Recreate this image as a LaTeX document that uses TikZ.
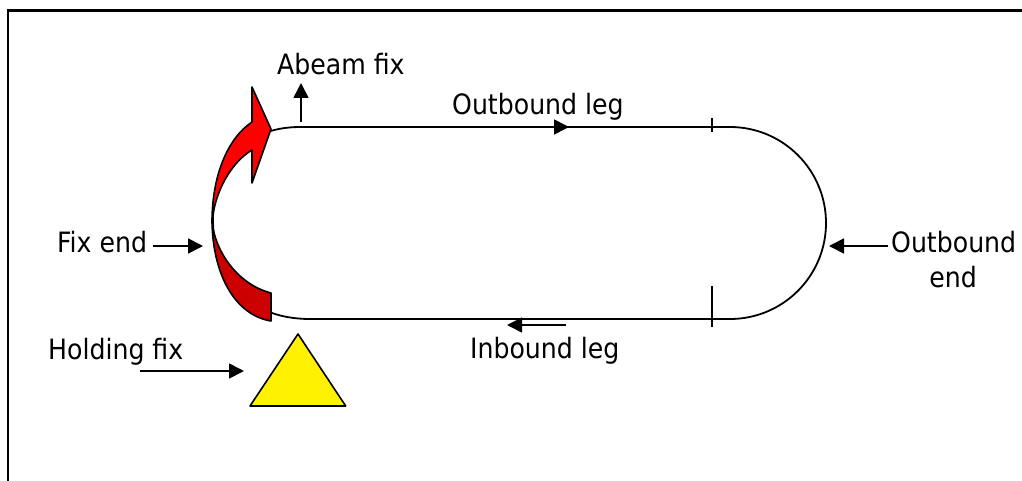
\documentclass[tikz,border=0pt]{standalone}
\usepackage{fontspec}
\setmainfont{DejaVu Sans Condensed}
\usetikzlibrary{arrows.meta}
\definecolor{darkred}{HTML}{CC0000}
\begin{document}
\begin{tikzpicture}[x=1pt,y=-1pt,
  lbl/.style={inner sep=0pt, font=\fontsize{28}{32}\selectfont},
  ptr/.style={line width=1.7pt, -{Triangle[length=15pt,width=15pt]}},
  trackline/.style={line width=1.8pt},
  outline/.style={line width=1.6pt, line join=round}]
\useasboundingbox (0,0) rectangle (1022,481);
% frame
\draw[line width=2.5pt] (8,481) -- (8,10.5) -- (1022,10.5);
% racetrack
\draw[trackline] (300,127) -- (730,127) arc[start angle=-90, end angle=90, radius=96]
  -- (310,319) .. controls (245,319) and (213,275) .. (213,220)
  .. controls (213,170) and (240,127) .. (300,127) -- cycle;
\draw[trackline] (712,118) -- (712,132);
\draw[trackline] (712,286) -- (712,327);
% red curved arrow
\filldraw[fill=red, outline] (271,129) -- (252,87) -- (252,122)
  .. controls (228,138) and (212,175) .. (212,222)
  .. controls (215,190) and (232,162) .. (252,150) -- (252,183) -- cycle;
\filldraw[fill=darkred, outline] (212,222) .. controls (213,275) and (235,315) .. (271,321)
  -- (271,293) .. controls (240,285) and (216,255) .. (212,222) -- cycle;
% holding fix triangle
\filldraw[fill=yellow, outline] (298,334) -- (345.7,406) -- (250,406) -- cycle;
% labels
\node[lbl, anchor=base west] (abeam) at (277,75) {Abeam fix};
\node[lbl, anchor=base west] (outleg) at (452,115) {Outbound leg};
\node[lbl, anchor=base west] (inleg) at (470,358) {Inbound leg};
\node[lbl, anchor=base west] (fixend) at (57,252) {Fix end};
\node[lbl, anchor=base west] (outend) at (891,252) {Outbound};
\node[lbl, anchor=base] (outend2) at (953,287) {end};
\node[lbl, anchor=base west] (holdfix) at (48,359) {Holding fix};
% pointer coordinates
\coordinate (a1) at (301,122); \coordinate (a2) at (301,83);
\coordinate (o1) at (522,127); \coordinate (o2) at (569,127);
\coordinate (i1) at (566,325); \coordinate (i2) at (507,325);
\coordinate (f1) at (153,246); \coordinate (f2) at (203,246);
\coordinate (e1) at (888,246); \coordinate (e2) at (829,246);
\coordinate (h1) at (140,371); \coordinate (h2) at (244,371);
\draw[ptr] (a1) -- (a2);
\draw[ptr] (o1) -- (o2);
\draw[ptr] (i1) -- (i2);
\draw[ptr] (f1) -- (f2);
\draw[ptr] (e1) -- (e2);
\draw[ptr] (h1) -- (h2);
\end{tikzpicture}
\end{document}
